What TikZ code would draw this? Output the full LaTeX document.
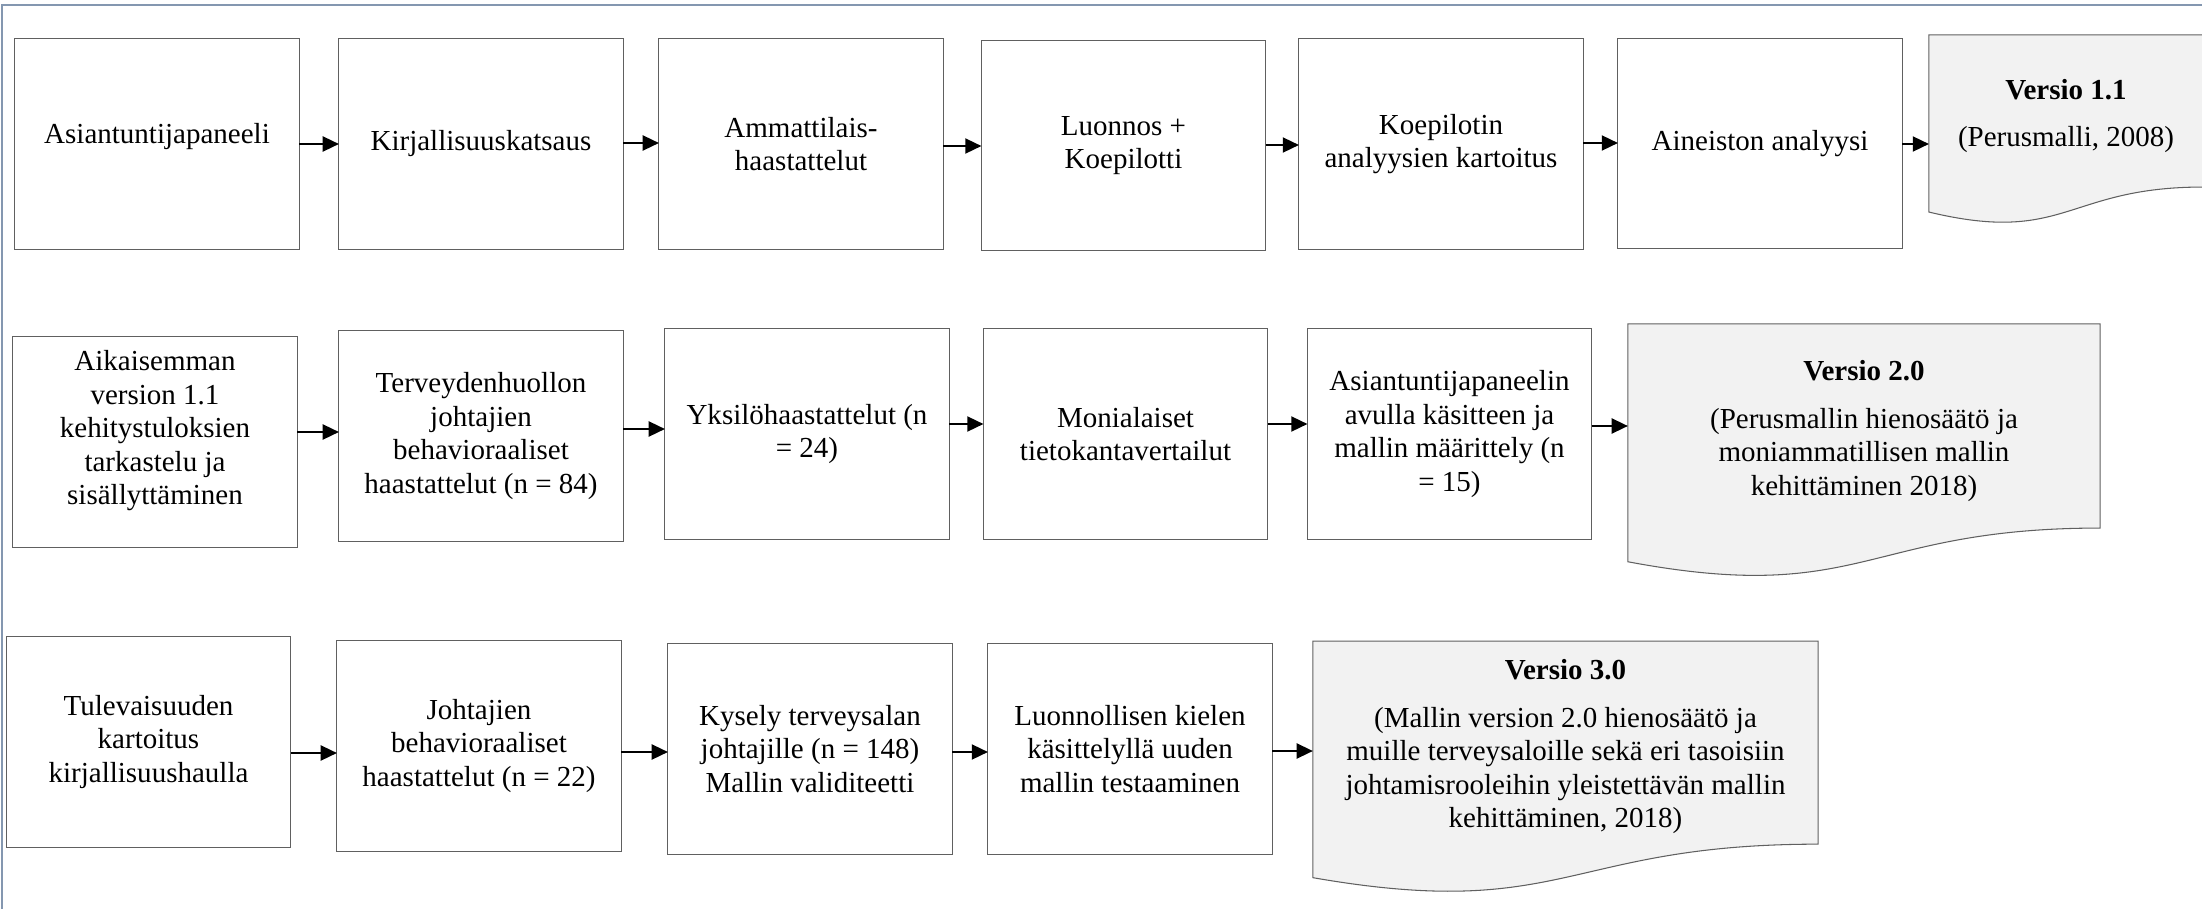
\documentclass[tikz,border=0pt]{standalone}
\usepackage{fontspec}
\setmainfont{Liberation Serif}
\usetikzlibrary{arrows.meta,calc}
\pgfdeclarelayer{background}
\pgfsetlayers{background,main}
\definecolor{boxline}{HTML}{606060}
\definecolor{docfill}{HTML}{F2F2F2}
\definecolor{pagecol}{HTML}{8497B0}
\begin{document}
\begin{tikzpicture}[x=0.01cm,y=-0.01cm,
  txtfont/.style={font=\fontsize{8.25pt}{9.53pt}\selectfont},
  stepbox/.style={draw=boxline, line width=0.3pt, inner sep=0pt, outer sep=0pt,
    minimum width=2.84cm, minimum height=2.10cm, align=center, txtfont},
  boxtext/.style={inner sep=0pt, outer sep=0pt, align=center, txtfont},
  doctext/.style={inner sep=0pt, outer sep=0pt, align=center, txtfont},
  docshape/.style={draw=boxline, line width=0.3pt, fill=docfill},
  arr/.style={draw=black, line width=0.5pt, -{Triangle[length=4.6pt,width=4.3pt]}},
  pageline/.style={draw=pagecol, line width=0.6pt}]
\useasboundingbox (0,0) rectangle (2202,909);
\clip (0,0) rectangle (2202,909);
\draw[pageline] (2,909) -- (2,5) -- (2202,5);

% Row 1
\node[stepbox] (b1) at (157,144) {};
\node[boxtext] (t1) at ($(b1.center)+(0,-7)$) {Asiantuntijapaneeli};
\node[stepbox] (b2) at (481,144) {Kirjallisuuskatsaus};
\node[stepbox] (b3) at (801,144) {Ammattilais-\\haastattelut};
\node[stepbox] (b4) at (1123.5,145.5) {Luonnos +\\Koepilotti};
\node[stepbox] (b5) at (1441,144) {Koepilotin\\analyysien kartoitus};
\node[stepbox] (b6) at (1760,143.5) {Aineiston analyysi};
\node[doctext, minimum width=2.74cm, minimum height=1.52cm] (d1) at (2066,111) {};
\node[doctext] (v1) at ($(d1.center)+(0,5)$)
  {\textbf{Versio 1.1}\\[0.14cm](Perusmalli, 2008)};

% Row 2
\node[stepbox] (b7) at (155,442) {};
\node[boxtext] (t7) at ($(b7.center)+(0,-11)$) {Aikaisemman\\version 1.1\\kehitystuloksien\\tarkastelu ja\\sisällyttäminen};
\node[stepbox] (b8) at (481,436) {Terveydenhuollon\\johtajien\\behavioraaliset\\haastattelut (n = 84)};
\node[stepbox] (b9) at (807,434) {Yksilöhaastattelut (n\\= 24)};
\node[stepbox] (b10) at (1125.5,434) {Monialaiset\\tietokantavertailut};
\node[stepbox] (b11) at (1449.5,434) {Asiantuntijapaneelin\\avulla käsitteen ja\\mallin määrittely (n\\= 15)};
\node[doctext, minimum width=4.72cm, minimum height=2.04cm] (d2) at (1864,426) {};
\node[doctext] (v2) at ($(d2.center)+(0,5)$)
  {\textbf{Versio 2.0}\\[0.14cm](Perusmallin hienosäätö ja\\moniammatillisen mallin\\kehittäminen 2018)};

% Row 3
\node[stepbox] (b12) at (148.5,742) {Tulevaisuuden\\kartoitus\\kirjallisuushaulla};
\node[stepbox] (b13) at (479,746) {Johtajien\\behavioraaliset\\haastattelut (n = 22)};
\node[stepbox] (b14) at (810,749) {Kysely terveysalan\\johtajille (n = 148)\\Mallin validiteetti};
\node[stepbox] (b15) at (1130,749) {Luonnollisen kielen\\käsittelyllä uuden\\mallin testaaminen};
\node[doctext, minimum width=5.05cm, minimum height=2.03cm] (d3) at (1565.5,742.6) {};
\node[doctext] (v3) at ($(d3.center)+(0,4)$)
  {\textbf{Versio 3.0}\\[0.14cm](Mallin version 2.0 hienosäätö ja\\muille terveysaloille sekä eri tasoisiin\\johtamisrooleihin yleistettävän mallin\\kehittäminen, 2018)};

\begin{pgfonlayer}{background}
\path[docshape] (d1.north west) -- (d1.north east) -- (d1.south east)
  .. controls (d1.south) and ($(d1.south)+(0,58)$) .. ($(d1.south west)+(0,25)$) -- cycle;
\path[docshape] (d2.north west) -- (d2.north east) -- (d2.south east)
  .. controls (d2.south) and ($(d2.south)+(0,78)$) .. ($(d2.south west)+(0,33.7)$) -- cycle;
\path[docshape] (d3.north west) -- (d3.north east) -- (d3.south east)
  .. controls (d3.south) and ($(d3.south)+(0,77.6)$) .. ($(d3.south west)+(0,33.5)$) -- cycle;
\end{pgfonlayer}

% Arrows row 1
\draw[arr] (b1.east |- 0,144) -- (b2.west |- 0,144);
\draw[arr] (b2.east |- 0,143) -- (b3.west |- 0,143);
\draw[arr] (b3.east |- 0,146) -- (b4.west |- 0,146);
\draw[arr] (b4.east |- 0,145) -- (b5.west |- 0,145);
\draw[arr] (b5.east |- 0,143) -- (b6.west |- 0,143);
\draw[arr] (b6.east |- 0,144) -- (d1.west |- 0,144);
% Arrows row 2
\draw[arr] (b7.east |- 0,432) -- (b8.west |- 0,432);
\draw[arr] (b8.east |- 0,429) -- (b9.west |- 0,429);
\draw[arr] (b9.east |- 0,424) -- (b10.west |- 0,424);
\draw[arr] (b10.east |- 0,424) -- (b11.west |- 0,424);
\draw[arr] (b11.east |- 0,426) -- (d2.west |- 0,426);
% Arrows row 3
\draw[arr] (b12.east |- 0,753) -- (b13.west |- 0,753);
\draw[arr] (b13.east |- 0,752) -- (b14.west |- 0,752);
\draw[arr] (b14.east |- 0,752) -- (b15.west |- 0,752);
\draw[arr] (b15.east |- 0,751) -- (d3.west |- 0,751);
\end{tikzpicture}
\end{document}
